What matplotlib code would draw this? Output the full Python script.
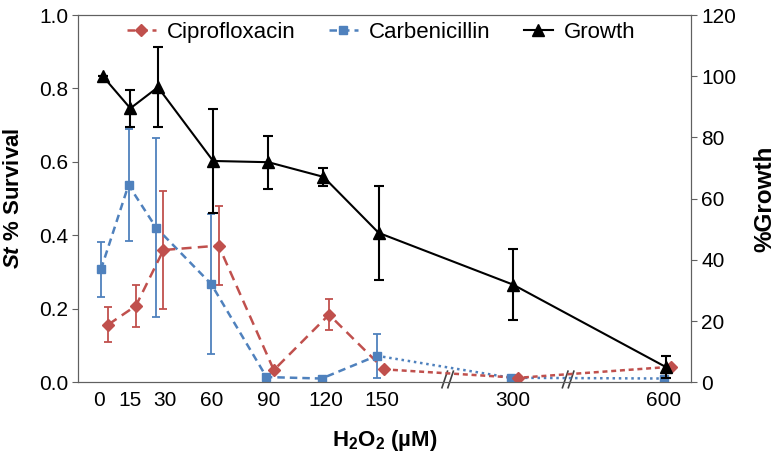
import matplotlib.pyplot as plt
import numpy as np

plt.rcParams['font.family'] = ['Liberation Sans', 'DejaVu Sans']
plt.rcParams['mathtext.fontset'] = 'custom'
plt.rcParams['mathtext.rm'] = 'Liberation Sans'
plt.rcParams['mathtext.it'] = 'Liberation Sans:italic:bold'
plt.rcParams['mathtext.bf'] = 'Liberation Sans:bold'

# H2O2 concentrations (labels) and where each one sits on the broken x axis
conc_labels = ['0', '15', '30', '60', '90', '120', '150', '300', '600']
xpos = np.array([0, 15, 30, 60, 90, 120, 150, 223, 306])
label_pos = [-2, 15, 34, 59, 90, 121, 152, 223, 305]

cipro = [0.157, 0.208, 0.360, 0.372, 0.033, 0.184, 0.035, 0.012, 0.042]
cipro_err = [0.047, 0.057, 0.160, 0.107, 0.0, 0.043, 0.0, 0.0, 0.0]

carb = [0.307, 0.537, 0.421, 0.267, 0.014, 0.010, 0.072, 0.012, 0.010]
carb_err = [0.076, 0.152, 0.243, 0.190, 0.0, 0.0, 0.060, 0.0, 0.0]

growth = [100.0, 89.5, 96.4, 72.3, 71.9, 67.1, 48.8, 31.9, 5.0]
growth_err = [0.0, 6.0, 13.0, 17.0, 8.7, 3.0, 15.3, 11.7, 3.5]

red = '#C0504D'
blue = '#4F81BD'

fig, ax = plt.subplots(figsize=(7.83, 4.55), dpi=100)
fig.subplots_adjust(left=0.1, right=0.883, top=0.967, bottom=0.16)
ax2 = ax.twinx()

# carbenicillin: dashed up to 150, dotted after
cx = xpos - 1
ax.errorbar(cx, carb, yerr=carb_err, fmt='none', ecolor=blue, elinewidth=1.3,
            capsize=3, capthick=1.3, zorder=2)
ax.plot(cx[:7], carb[:7], color=blue, ls=(0, (3, 2)), lw=1.8, zorder=3)
ax.plot(cx[6:], carb[6:], color=blue, ls=(0, (1, 1.5)), lw=1.8, zorder=3)
ax.plot(cx, carb, color=blue, ls='none', marker='s', ms=6, zorder=4)

# ciprofloxacin
rx = xpos + 3
ax.errorbar(rx, cipro, yerr=cipro_err, fmt='none', ecolor=red, elinewidth=1.3,
            capsize=3, capthick=1.3, zorder=2)
ax.plot(rx[:7], cipro[:7], color=red, ls=(0, (4, 2.5)), lw=1.8, zorder=3)
ax.plot(rx[6:], cipro[6:], color=red, ls=(0, (2, 1.5)), lw=1.8, zorder=3)
ax.plot(rx, cipro, color=red, ls='none', marker='D', ms=6, zorder=4)

# growth on right axis
ax2.errorbar(xpos, growth, yerr=growth_err, color='black', lw=1.5, marker='^',
             ms=8, elinewidth=1.5, capsize=3.5, capthick=1.5, zorder=3)

ax.set_xlim(-13.3, 320)
ax.set_ylim(0, 1.0)
ax2.set_ylim(0, 120)
ax.set_yticks(np.arange(0, 1.01, 0.2))
ax.set_yticklabels([f'{v:.1f}' for v in np.arange(0, 1.01, 0.2)])
ax2.set_yticks(range(0, 121, 20))
ax.set_xticks(label_pos)
ax.set_xticklabels(conc_labels)

for a in (ax, ax2):
    a.tick_params(labelsize=15, length=4, color='#606060', pad=3)
    for s in a.spines.values():
        s.set_color('#606060')
ax.tick_params(axis='x', length=0, pad=6)

ax.set_ylabel(r'$\mathit{St}$ % Survival', fontsize=16, fontweight='bold', labelpad=11)
ax2.set_ylabel('%Growth', fontsize=17.5, fontweight='bold', labelpad=12)
ax.set_xlabel(r'H$_\mathbf{2}$O$_\mathbf{2}$ (µM)', fontsize=16, fontweight='bold', labelpad=13)

# axis break marks
trans = ax.get_xaxis_transform()
for bx in (187.5, 253):
    for d in (-1.6, 1.6):
        ax.plot([bx + d - 1.5, bx + d + 1.5], [-0.015, 0.03], color='#404040',
                lw=1.2, transform=trans, clip_on=False)

# legend
handles = [
    plt.Line2D([], [], color=red, ls=(0, (3, 2)), lw=1.8, marker='D', ms=6),
    plt.Line2D([], [], color=blue, ls=(0, (3, 2)), lw=1.8, marker='s', ms=6),
    plt.Line2D([], [], color='black', lw=1.5, marker='^', ms=8),
]
ax.legend(handles, ['Ciprofloxacin', 'Carbenicillin', 'Growth'], loc='upper center',
          ncol=3, frameon=False, fontsize=16, handlelength=1.3, columnspacing=1.5,
          bbox_to_anchor=(0.494, 1.035), handletextpad=0.5)

fig.savefig('out.png', dpi=100)
